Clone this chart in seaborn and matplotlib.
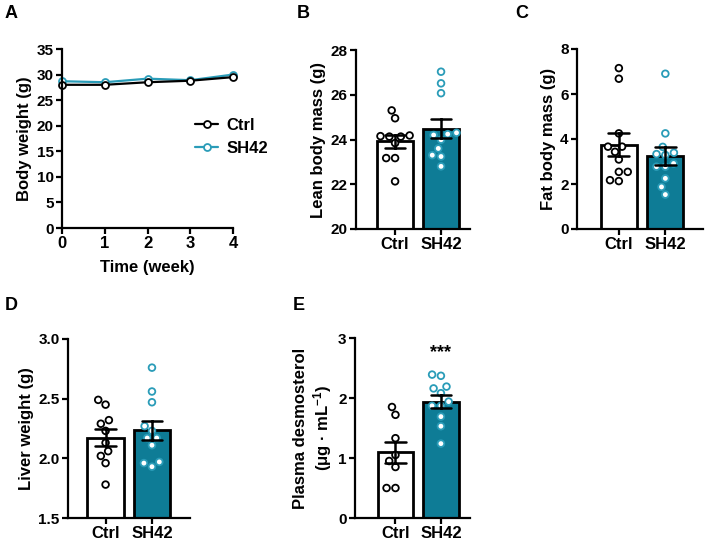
import numpy as np
import pandas as pd
import matplotlib
matplotlib.use("Agg")
import matplotlib.pyplot as plt
import seaborn as sns

# ---------------- data ----------------
groups = ["Ctrl", "SH42"]
weeks = [0, 1, 2, 3, 4]
bw_ctrl = [28.0, 28.0, 28.5, 28.8, 29.5]
bw_sh42 = [28.7, 28.5, 29.2, 28.9, 30.0]

lean_ctrl = [25.3, 24.95, 24.13, 24.13, 24.15, 24.18, 23.84, 23.17, 23.17, 22.13]
lean_sh42 = [27.03, 26.51, 26.07, 24.24, 24.3, 24.2, 23.99, 23.6, 23.24, 23.3, 22.8]
fat_ctrl = [7.15, 6.68, 4.25, 3.66, 3.66, 3.43, 3.09, 2.54, 2.54, 2.17, 2.13]
fat_sh42 = [6.9, 4.25, 3.65, 3.39, 3.33, 3.29, 2.91, 2.77, 2.77, 2.25, 1.87, 1.53]
liver_ctrl = [2.49, 2.45, 2.32, 2.29, 2.23, 2.13, 2.06, 2.02, 1.96, 1.78]
liver_sh42 = [2.76, 2.56, 2.47, 2.27, 2.23, 2.17, 2.17, 2.11, 1.97, 1.96, 1.93]
desmo_ctrl = [1.85, 1.72, 1.33, 1.05, 0.95, 0.85, 0.5, 0.5]
desmo_sh42 = [2.39, 2.37, 2.19, 2.16, 2.08, 1.94, 1.87, 1.87, 1.69, 1.53, 1.24]

# ---------------- style ----------------
sns.set_style("ticks")
plt.rcParams["font.family"] = ["Liberation Sans", "DejaVu Sans"]
plt.rcParams["font.weight"] = "bold"
plt.rcParams["axes.labelweight"] = "bold"
plt.rcParams["text.color"] = "black"
plt.rcParams["axes.labelcolor"] = "black"
plt.rcParams["xtick.color"] = "black"
plt.rcParams["ytick.color"] = "black"
plt.rcParams["mathtext.fontset"] = "custom"
plt.rcParams["mathtext.rm"] = "Liberation Sans:bold"
plt.rcParams["mathtext.bf"] = "Liberation Sans:bold"
plt.rcParams["mathtext.it"] = "Liberation Sans:bold"

TEAL_BAR = "#0e7c96"
TEAL_PT = "#2a9cb8"
LW = 1.6
FS_TICK = 11
FS_XTICK = 12
FS_LAB = 12

fig = plt.figure(figsize=(7.09, 5.47), dpi=100)


def style_axes(ax):
    sns.despine(ax=ax)
    for s in ("left", "bottom"):
        ax.spines[s].set_linewidth(LW)
        ax.spines[s].set_color("black")
    ax.tick_params(axis="y", width=LW, length=4, labelsize=FS_TICK,
                   colors="black", pad=2)
    ax.tick_params(axis="x", width=LW, length=4, labelsize=FS_XTICK,
                   colors="black", pad=2)
    for lab in ax.get_xticklabels() + ax.get_yticklabels():
        lab.set_fontweight("bold")


# ---------------- panel A ----------------
axA = fig.add_axes([62 / 709, 1 - 228 / 547, 171 / 709, 179 / 547])
dfA = pd.DataFrame({
    "week": weeks * 2,
    "bw": bw_ctrl + bw_sh42,
    "group": ["Ctrl"] * len(weeks) + ["SH42"] * len(weeks),
})
sns.lineplot(data=dfA, x="week", y="bw", hue="group", hue_order=["SH42", "Ctrl"],
             palette={"Ctrl": "black", "SH42": TEAL_PT}, marker="o",
             markersize=5, linewidth=1.6, errorbar=None, legend=False, ax=axA)
for ln in axA.lines:
    ln.set_markeredgecolor(ln.get_color())
    ln.set_markerfacecolor("white")
    ln.set_markeredgewidth(1.3)
    ln.set_clip_on(False)
axA.set_xlim(0, 4)
axA.set_ylim(0, 35)
axA.set_xticks(weeks)
axA.set_yticks(range(0, 36, 5))
axA.set_xlabel("Time (week)", fontsize=FS_LAB, fontweight="bold", labelpad=6)
axA.set_ylabel("Body weight (g)", fontsize=FS_LAB, fontweight="bold", labelpad=3)
style_axes(axA)
hl = [axA.lines[1], axA.lines[0]]
axA.legend(handles=hl, labels=groups, frameon=False, loc="center left",
           bbox_to_anchor=(0.69, 0.51), handlelength=1.4, handletextpad=0.5,
           labelspacing=0.5, prop={"weight": "bold", "size": FS_LAB})


# ---------------- bar panels ----------------
def bar_panel(rect, ctrl, sh42, ylim, yticks, ylabel, xlim):
    ax = fig.add_axes(rect)
    df = pd.DataFrame({
        "group": ["Ctrl"] * len(ctrl) + ["SH42"] * len(sh42),
        "value": ctrl + sh42,
    })
    sns.barplot(data=df, x="group", y="value", hue="group", order=groups,
                hue_order=groups, palette={"Ctrl": "white", "SH42": TEAL_BAR},
                saturation=1, errorbar="se", capsize=0.45, width=0.78,
                edgecolor="black", linewidth=2.0,
                err_kws={"color": "black", "linewidth": 1.8, "zorder": 5},
                legend=False, ax=ax)
    n0 = len(ax.collections)
    sns.swarmplot(data=df, x="group", y="value", hue="group", order=groups,
                  hue_order=groups, palette={"Ctrl": "black", "SH42": TEAL_PT},
                  size=4.8, legend=False, ax=ax)
    for coll in ax.collections[n0:]:
        fc = coll.get_facecolor()
        coll.set_edgecolor(fc)
        coll.set_facecolor("white")
        coll.set_linewidth(1.3)
        coll.set_zorder(3)
        coll.set_clip_on(False)
    ax.set_xlim(*xlim)
    ax.set_ylim(*ylim)
    ax.set_yticks(yticks)
    ax.set_xlabel("")
    ax.set_ylabel(ylabel, fontsize=FS_LAB, fontweight="bold", labelpad=3)
    style_axes(ax)
    return ax


axB = bar_panel([356 / 709, 1 - 229 / 547, 114 / 709, 179 / 547], lean_ctrl, lean_sh42,
                (20, 28), [20, 22, 24, 26, 28], "Lean body mass (g)", (-0.85, 1.63))
axC = bar_panel([577 / 709, 1 - 229 / 547, 126 / 709, 180 / 547], fat_ctrl, fat_sh42,
                (0, 8), [0, 2, 4, 6, 8], "Fat body mass (g)", (-0.9, 1.81))
axD = bar_panel([68 / 709, 1 - 518 / 547, 122 / 709, 179 / 547], liver_ctrl, liver_sh42,
                (1.5, 3.0), [1.5, 2.0, 2.5, 3.0], "Liver weight (g)", (-0.81, 1.82))
axE = bar_panel([355 / 709, 1 - 518 / 547, 115 / 709, 180 / 547], desmo_ctrl, desmo_sh42,
                (0, 3), [0, 1, 2, 3],
                "Plasma desmosterol\n(\u03bcg \u00b7 mL$^{-1}$)", (-0.89, 1.64))
axD.set_yticklabels(["1.5", "2.0", "2.5", "3.0"])
for lab in axD.get_yticklabels():
    lab.set_fontweight("bold")
axE.text(1, 2.62, "***", ha="center", va="bottom", fontsize=13, fontweight="bold")

# ---------------- panel letters ----------------
for letter, (x, y) in {"A": (5, 13), "B": (297, 13), "C": (515, 13),
                       "D": (5, 306), "E": (293, 306)}.items():
    fig.text(x / 709, 1 - y / 547, letter, fontsize=13, fontweight="bold",
             ha="left", va="center")

fig.savefig("out.png", dpi=100)
